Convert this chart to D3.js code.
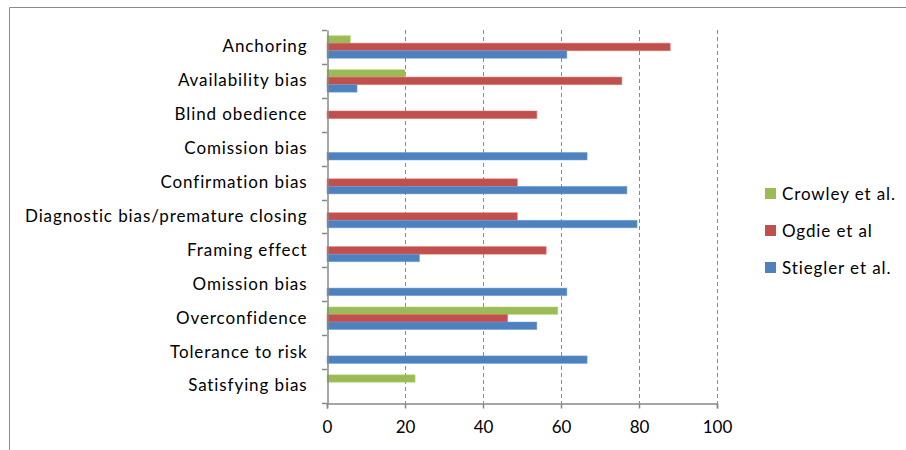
<!DOCTYPE html>
<html>
<head>
<meta charset="utf-8">
<script src="https://cdn.jsdelivr.net/npm/d3@7"></script>
<style>
  html, body { margin: 0; padding: 0; background: #fff; }
  svg { display: block; font-family: Lato, "Open Sans", sans-serif; font-variant-ligatures: none; }
</style>
</head>
<body>
<svg id="chart" width="906" height="450"></svg>
<script>
// Cognitive bias categories, top to bottom
const categories = [
  "Anchoring", "Availability bias", "Blind obedience", "Comission bias",
  "Confirmation bias", "Diagnostic bias/premature closing", "Framing effect",
  "Omission bias", "Overconfidence", "Tolerance to risk", "Satisfying bias"
];
// Series names in the order the bars stack inside each category (top to bottom)
const seriesNames = ["Crowley et al.", "Ogdie et al", "Stiegler et al."];
const seriesColors = ["#9BBB59", "#C0504D", "#4F81BD"];
// Percent values per series (null = not reported)
const crowley  = [6, 20, null, null, null, null, null, null, 59.2, null, 22.6];
const ogdie    = [88, 75.6, 53.8, null, 48.8, 48.8, 56.2, null, 46.3, null, null];
const stiegler = [61.5, 7.7, null, 66.7, 76.9, 79.5, 23.7, 61.5, 53.8, 66.7, null];
const xTicks = [0, 20, 40, 60, 80, 100];

const seriesValues = [crowley, ogdie, stiegler];

const svg = d3.select("#chart");
const margin = { left: 327, right: 189, top: 30, bottom: 47 };
const W = 906, H = 450;
const x0 = margin.left, x1 = W - margin.right;
const y0 = margin.top, y1 = H - margin.bottom;

// Outer frame
svg.append("path")
  .attr("d", `M9.5,${H} V7.5 H${W}`)
  .attr("fill", "none").attr("stroke", "#8c8c8c").attr("stroke-width", 1);

const x = d3.scaleLinear().domain([0, 100]).range([x0, x1]);
const y = d3.scaleBand().domain(categories).range([y0, y1]).paddingInner(0).paddingOuter(0);
const inner = d3.scaleBand().domain(seriesNames)
  .range([0, y.bandwidth()]).paddingOuter(0.75).paddingInner(0);

// Dashed vertical gridlines
svg.append("g").selectAll("line")
  .data(xTicks.filter(t => t > 0))
  .join("line")
  .attr("x1", d => Math.round(x(d)) + 0.5).attr("x2", d => Math.round(x(d)) + 0.5)
  .attr("y1", y0).attr("y2", y1)
  .attr("stroke", "#8a8a8a").attr("stroke-width", 1)
  .attr("stroke-dasharray", "4,3");

// Bars
seriesNames.forEach((name, si) => {
  const rows = categories.map((c, i) => ({ c, v: seriesValues[si][i] }))
    .filter(d => d.v != null);
  svg.append("g").selectAll("rect")
    .data(rows)
    .join("rect")
    .attr("x", x(0))
    .attr("y", d => y(d.c) + inner(name))
    .attr("width", d => x(d.v) - x(0))
    .attr("height", inner.bandwidth())
    .attr("fill", seriesColors[si])
    .attr("stroke", d3.color(seriesColors[si]).brighter(0.6))
    .attr("stroke-opacity", 0.6)
    .attr("stroke-width", 0.8);
});

// Category axis
const yAxis = d3.axisLeft(y).tickSize(0).tickPadding(20);
const gy = svg.append("g").attr("transform", `translate(${x0 + 0.5},0)`).call(yAxis);
gy.select(".domain").attr("stroke", "#888").attr("stroke-width", 1.5);
gy.selectAll(".tick text")
  .attr("font-size", 17).attr("fill", "#000")
  .attr("letter-spacing", "0.9px")
  .attr("font-family", "Lato, 'Open Sans', sans-serif");
// Category separators (ticks between bands)
svg.append("g").selectAll("line")
  .data(d3.range(categories.length + 1))
  .join("line")
  .attr("x1", x0 - 5).attr("x2", x0)
  .attr("y1", i => Math.round(y0 + i * y.step()) + 0.5)
  .attr("y2", i => Math.round(y0 + i * y.step()) + 0.5)
  .attr("stroke", "#888").attr("stroke-width", 1.5);

// Value axis
const xAxis = d3.axisBottom(x).tickValues(xTicks).tickSize(5).tickPadding(12)
  .tickFormat(d3.format("d"));
const gx = svg.append("g").attr("transform", `translate(0,${y1 + 0.5})`).call(xAxis);
gx.select(".domain").attr("stroke", "#888").attr("stroke-width", 1.5);
gx.selectAll(".tick line").attr("stroke", "#888").attr("stroke-width", 1.5);
gx.selectAll(".tick text")
  .attr("font-size", 17).attr("fill", "#000")
  .attr("font-family", "Lato, 'Open Sans', sans-serif");

// Legend
const legend = svg.append("g").attr("transform", "translate(765,0)");
const legendY = [194, 231, 268];
seriesNames.forEach((name, i) => {
  legend.append("rect")
    .attr("x", 0).attr("y", legendY[i] - 6)
    .attr("width", 11).attr("height", 11)
    .attr("fill", seriesColors[i]);
  legend.append("text")
    .attr("x", 17).attr("y", legendY[i])
    .attr("dy", "0.35em")
    .attr("font-size", 17)
    .attr("letter-spacing", "0.9px")
    .text(name);
});
</script>
</body>
</html>
